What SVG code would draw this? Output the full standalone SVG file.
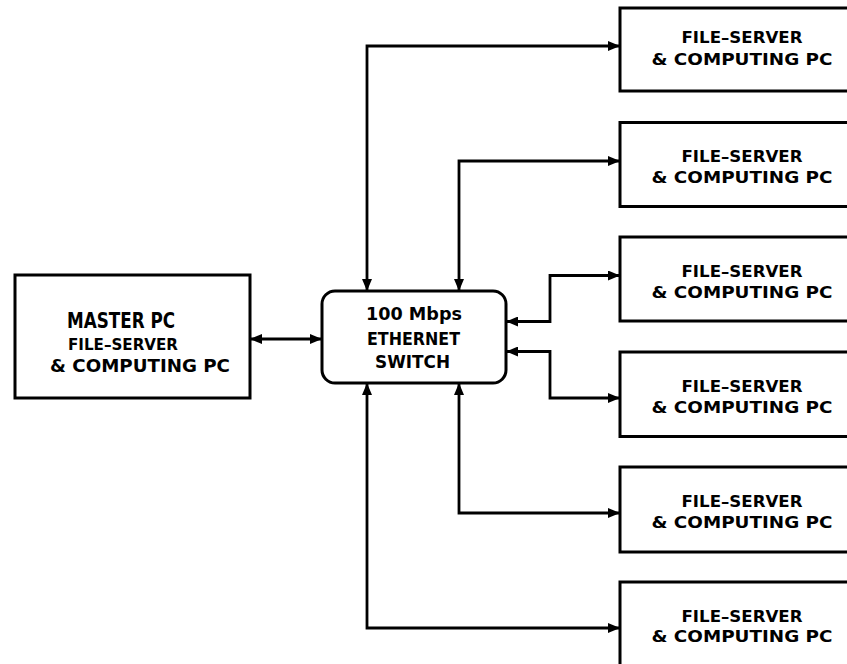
<svg xmlns="http://www.w3.org/2000/svg" width="847" height="664" viewBox="0 0 847 664">
<defs>
<marker id="ah" markerUnits="userSpaceOnUse" markerWidth="12" markerHeight="10" refX="12" refY="5" orient="auto-start-reverse" viewBox="0 0 12 10">
<path d="M0,0 L12,5 L0,10 z" fill="#000"/>
</marker>
<style>
.box{fill:#fff;stroke:#000;stroke-width:3}
.c{fill:none;stroke:#000;stroke-width:2.8;marker-start:url(#ah);marker-end:url(#ah)}
text{font-family:"DejaVu Sans","Liberation Sans",sans-serif;font-weight:bold;text-anchor:middle;fill:#000}
.s{font-size:16.5px}
</style>
</defs>
<rect width="847" height="664" fill="#fff"/>
<g id="connectors">
<path class="c" d="M250,339 H322"/>
<path class="c" d="M367,291 V46 H620"/>
<path class="c" d="M459,291 V161 H620"/>
<path class="c" d="M506,321.5 H550 V275.5 H620"/>
<path class="c" d="M506,351.5 H550 V398 H620"/>
<path class="c" d="M459,383 V513 H620"/>
<path class="c" d="M367,383 V628 H620"/>
</g>
<g id="master">
<rect class="box" x="15" y="275" width="235" height="123"/>
<text x="121" y="328" font-size="20.5" textLength="108" lengthAdjust="spacingAndGlyphs">MASTER PC</text>
<text x="123" y="350" font-size="16.5" textLength="110" lengthAdjust="spacingAndGlyphs">FILE–SERVER</text>
<text x="140" y="372" font-size="18" textLength="180" lengthAdjust="spacingAndGlyphs">&amp; COMPUTING PC</text>
</g>
<g id="switch">
<rect class="box" x="322" y="291" width="184" height="92" rx="13" ry="13"/>
<text x="414" y="320" font-size="18" textLength="96" lengthAdjust="spacingAndGlyphs">100 Mbps</text>
<text x="413.5" y="345" font-size="18" textLength="93" lengthAdjust="spacingAndGlyphs">ETHERNET</text>
<text x="412.5" y="368" font-size="18" textLength="75" lengthAdjust="spacingAndGlyphs">SWITCH</text>
</g>
<g id="pc1">
<rect class="box" x="620" y="8" width="260" height="83"/>
<text class="s" x="742" y="43" textLength="121" lengthAdjust="spacingAndGlyphs">FILE–SERVER</text>
<text class="s" x="742" y="65" textLength="181" lengthAdjust="spacingAndGlyphs">&amp; COMPUTING PC</text>
</g>
<g id="pc2">
<rect class="box" x="620" y="122.5" width="260" height="84"/>
<text class="s" x="742" y="162" textLength="121" lengthAdjust="spacingAndGlyphs">FILE–SERVER</text>
<text class="s" x="742" y="183" textLength="181" lengthAdjust="spacingAndGlyphs">&amp; COMPUTING PC</text>
</g>
<g id="pc3">
<rect class="box" x="620" y="237" width="260" height="84"/>
<text class="s" x="742" y="277" textLength="121" lengthAdjust="spacingAndGlyphs">FILE–SERVER</text>
<text class="s" x="742" y="298" textLength="181" lengthAdjust="spacingAndGlyphs">&amp; COMPUTING PC</text>
</g>
<g id="pc4">
<rect class="box" x="620" y="352" width="260" height="84.5"/>
<text class="s" x="742" y="392" textLength="121" lengthAdjust="spacingAndGlyphs">FILE–SERVER</text>
<text class="s" x="742" y="413" textLength="181" lengthAdjust="spacingAndGlyphs">&amp; COMPUTING PC</text>
</g>
<g id="pc5">
<rect class="box" x="620" y="467" width="260" height="85"/>
<text class="s" x="742" y="507" textLength="121" lengthAdjust="spacingAndGlyphs">FILE–SERVER</text>
<text class="s" x="742" y="528" textLength="181" lengthAdjust="spacingAndGlyphs">&amp; COMPUTING PC</text>
</g>
<g id="pc6">
<rect class="box" x="620" y="582" width="260" height="90"/>
<text class="s" x="742" y="622" textLength="121" lengthAdjust="spacingAndGlyphs">FILE–SERVER</text>
<text class="s" x="742" y="642" textLength="181" lengthAdjust="spacingAndGlyphs">&amp; COMPUTING PC</text>
</g>
</svg>
